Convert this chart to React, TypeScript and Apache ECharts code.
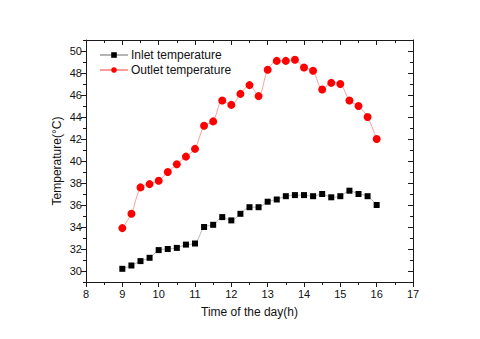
import React, { useEffect, useRef } from "react";
import * as echarts from "echarts";

const hours = [9, 9.25, 9.5, 9.75, 10, 10.25, 10.5, 10.75, 11, 11.25, 11.5, 11.75, 12, 12.25, 12.5, 12.75, 13, 13.25, 13.5, 13.75, 14, 14.25, 14.5, 14.75, 15, 15.25, 15.5, 15.75, 16];
const inletTemp = [30.2, 30.5, 30.9, 31.2, 31.9, 32.0, 32.1, 32.4, 32.5, 34.0, 34.2, 34.9, 34.6, 35.2, 35.8, 35.8, 36.3, 36.5, 36.8, 36.9, 36.9, 36.8, 37.0, 36.7, 36.8, 37.3, 37.0, 36.8, 36.0];
const outletTemp = [33.9, 35.2, 37.6, 37.9, 38.2, 39.0, 39.7, 40.4, 41.1, 43.2, 43.6, 45.5, 45.1, 46.1, 46.9, 45.9, 48.3, 49.1, 49.1, 49.2, 48.5, 48.2, 46.5, 47.1, 47.0, 45.5, 45.0, 44.0, 42.0];
const yMajorTicks = [30, 32, 34, 36, 38, 40, 42, 44, 46, 48, 50];
const yMinorTicks = [29, 31, 33, 35, 37, 39, 41, 43, 45, 47, 49, 51];

export default function App() {
  const ref = useRef<HTMLDivElement>(null);
  useEffect(() => {
    document.body.style.margin = "0";
    const chart = echarts.init(ref.current!, null, { renderer: "svg" });
    const font = "'Liberation Sans', Arial, sans-serif";
    const axisColor = "#1a1a1a";
    const yBase = { type: "value", min: 29, max: 51, interval: 1, splitLine: { show: false } };
    chart.setOption({
      animation: false,
      backgroundColor: "#ffffff",
      textStyle: { fontFamily: font },
      grid: { left: 86, right: 67, top: 40, bottom: 57 },
      legend: {
        orient: "vertical",
        left: 99,
        top: 49,
        padding: 0,
        itemWidth: 28,
        itemHeight: 7,
        itemGap: 3,
        textStyle: { fontFamily: font, fontSize: 12, color: "#111", padding: [0, 0, 0, -2] },
        data: ["Inlet temperature", "Outlet temperature"],
      },
      xAxis: [
        {
          type: "value",
          min: 8,
          max: 17,
          interval: 1,
          position: "bottom",
          name: "Time of the day(h)",
          nameLocation: "middle",
          nameGap: 24,
          nameTextStyle: { fontFamily: font, fontSize: 12, color: "#111" },
          axisLine: { lineStyle: { color: axisColor, width: 1 } },
          axisTick: { inside: false, length: 5, lineStyle: { color: axisColor } },
          minorTick: { show: true, splitNumber: 2, length: 3, lineStyle: { color: axisColor } },
          axisLabel: { fontFamily: font, fontSize: 11, color: "#111", margin: 6 },
          splitLine: { show: false },
        },
        {
          type: "value",
          min: 8,
          max: 17,
          interval: 1,
          position: "top",
          axisLine: { lineStyle: { color: axisColor, width: 1 } },
          axisTick: { inside: true, length: 5, lineStyle: { color: axisColor } },
          minorTick: { show: true, splitNumber: 2, length: 3, lineStyle: { color: axisColor } },
          axisLabel: { show: false },
          splitLine: { show: false },
        },
      ],
      yAxis: [
        {
          ...yBase,
          position: "left",
          name: "Temperature(°C)",
          nameLocation: "middle",
          nameGap: 23,
          nameMoveOverlap: false,
          nameTextStyle: { fontFamily: font, fontSize: 12, color: "#111" },
          axisLine: { show: true, lineStyle: { color: axisColor, width: 1 } },
          axisTick: { show: true, inside: false, length: 5, customValues: yMajorTicks, lineStyle: { color: axisColor } },
          axisLabel: { fontFamily: font, fontSize: 11, color: "#111", margin: 4, customValues: yMajorTicks },
        },
        {
          ...yBase,
          position: "left",
          axisLine: { show: false },
          axisTick: { show: true, inside: false, length: 3, customValues: yMinorTicks, lineStyle: { color: axisColor } },
          axisLabel: { show: false },
        },
        {
          ...yBase,
          position: "right",
          axisLine: { show: true, lineStyle: { color: axisColor, width: 1 } },
          axisTick: { show: true, inside: true, length: 5, customValues: yMajorTicks, lineStyle: { color: axisColor } },
          axisLabel: { show: false },
        },
        {
          ...yBase,
          position: "right",
          axisLine: { show: false },
          axisTick: { show: true, inside: true, length: 3, customValues: yMinorTicks, lineStyle: { color: axisColor } },
          axisLabel: { show: false },
        },
      ],
      series: [
        {
          name: "Inlet temperature",
          type: "line",
          smooth: 0.3,
          xAxisIndex: 0,
          yAxisIndex: 0,
          data: hours.map((h, i) => [h, inletTemp[i]]),
          symbol: "rect",
          symbolSize: 6,
          lineStyle: { color: "#b5b5b5", width: 1 },
          itemStyle: { color: "#000000" },
        },
        {
          name: "Outlet temperature",
          type: "line",
          smooth: 0.3,
          xAxisIndex: 0,
          yAxisIndex: 0,
          data: hours.map((h, i) => [h, outletTemp[i]]),
          symbol: "circle",
          symbolSize: 8,
          lineStyle: { color: "#ff9c9c", width: 1 },
          itemStyle: { color: "#ff0000" },
        },
      ],
    });
    return () => chart.dispose();
  }, []);
  return <div ref={ref} style={{ width: 480, height: 339, position: "absolute", left: 0, top: 0 }} />;
}
